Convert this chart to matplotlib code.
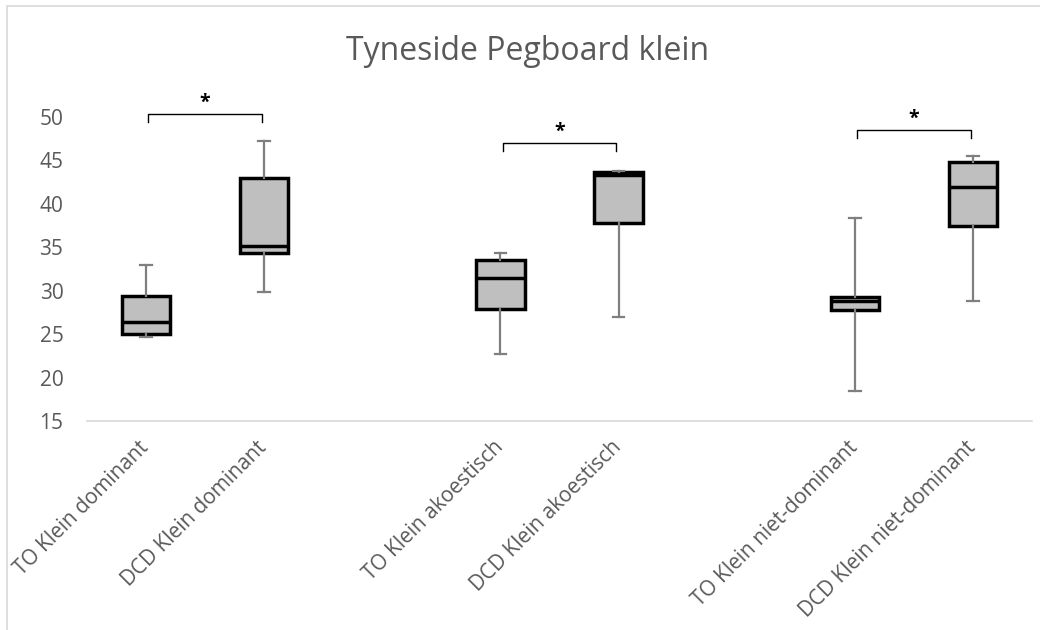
import matplotlib
matplotlib.use('Agg')
from matplotlib import pyplot as plt
from matplotlib.patches import Rectangle
from matplotlib.transforms import ScaledTranslation

plt.rcParams['font.family'] = ['Open Sans', 'DejaVu Sans']

# ----- Box statistics per group (read as min / Q1 / median / Q3 / max) -----
groups = ['TO Klein dominant', 'DCD Klein dominant',
          'TO Klein akoestisch', 'DCD Klein akoestisch',
          'TO Klein niet-dominant', 'DCD Klein niet-dominant']
positions = [0, 1, 3, 4, 6, 7]
whisk_lo = [24.7, 29.85, 22.75, 27.0, 18.45, 28.8]
q1 = [25.0, 34.3, 27.9, 37.85, 27.75, 37.45]
med = [26.4, 35.2, 31.5, 43.3, 28.8, 41.9]
q3 = [29.4, 43.0, 33.5, 43.7, 29.3, 44.8]
whisk_hi = [33.0, 47.2, 34.3, 43.75, 38.4, 45.55]

# significance brackets: (left pos, right pos, height)
pairs = [(0, 1, 50.3), (3, 4, 47.0), (6, 7, 48.5)]

text_col = '#595959'

fig = plt.figure(figsize=(10.4, 6.3), dpi=100)
ax = fig.add_axes([87/1040, 209/630, 945/1040, 304/630])

stats = []
for i in range(len(groups)):
    stats.append({'whislo': whisk_lo[i], 'q1': q1[i], 'med': med[i],
                  'q3': q3[i], 'whishi': whisk_hi[i], 'fliers': []})

ax.bxp(stats, positions=positions, widths=0.41, capwidths=0.1,
       showfliers=False, patch_artist=True,
       boxprops=dict(facecolor='#bfbfbf', edgecolor='black', linewidth=2.5),
       medianprops=dict(color='black', linewidth=2.5),
       whiskerprops=dict(color='#7f7f7f', linewidth=1.6),
       capprops=dict(color='#7f7f7f', linewidth=1.6))

# brackets with stars
for a, b, h in pairs:
    xa, xb = a + 0.02, b - 0.02
    ax.plot([xa, xa, xb, xb], [h - 0.9, h, h, h - 0.9], color='black',
            linewidth=1.0, clip_on=False)
    ax.text((a + b) / 2, h + 0.15, '*', ha='center', va='bottom',
            fontsize=14, fontweight='bold', color='black')

ax.set_xlim(-0.5, 7.5)
ax.set_ylim(15, 50)
ax.set_yticks(range(15, 51, 5))
ax.set_xticks(positions)
ax.set_xticklabels(groups, rotation=45, ha='right', va='top',
                   rotation_mode='anchor')
ax.tick_params(axis='both', length=0, labelsize=15, labelcolor=text_col)
ax.tick_params(axis='y', pad=17)
ax.tick_params(axis='x', pad=10)

# nudge the slanted labels back along their own direction
shift = ScaledTranslation(-0.08, -0.02, fig.dpi_scale_trans)
for lbl in ax.get_xticklabels():
    lbl.set_transform(lbl.get_transform() + shift)

for side in ['top', 'right', 'left']:
    ax.spines[side].set_visible(False)
ax.spines['bottom'].set_color('#d9d9d9')
ax.spines['bottom'].set_linewidth(1.2)

fig.text(0.507, 1 - 52/630, 'Tyneside Pegboard klein', ha='center', va='center',
         fontsize=23, color=text_col)

# chart frame
fig.patches.append(Rectangle((7/1040, -0.05), 1.1, 1 - 6/630 + 0.05,
                             transform=fig.transFigure, fill=False,
                             edgecolor='#d9d9d9', linewidth=1.2))

fig.savefig('out.png', dpi=100)
